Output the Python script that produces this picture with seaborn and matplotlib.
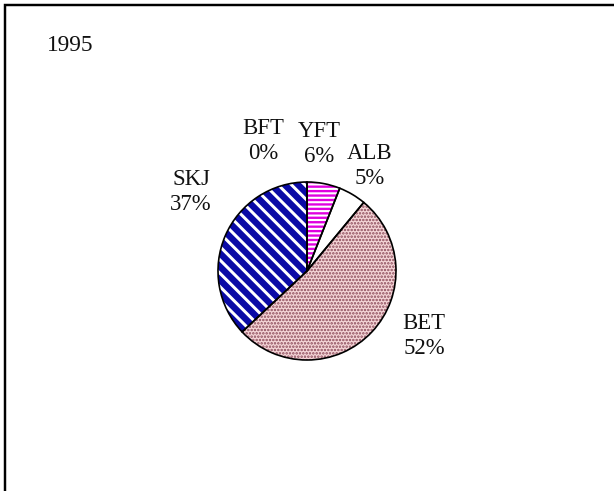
import matplotlib
matplotlib.use("Agg")
import matplotlib.pyplot as plt
import seaborn as sns
from matplotlib.lines import Line2D

# ---- data ----
year_title = "1995"
species = ["YFT", "ALB", "BET", "SKJ", "BFT"]
shares = [6, 5, 52, 37, 0]

# ---- styles ----
face_colors = ["#E000E0", "#FFFFFF", "#F5D6D8", "#0A0AA6", "#FFFFFF"]
hatch_colors = ["#FFFFFF", "#FFFFFF", "#8A4858", "#FFFFFF", "#FFFFFF"]
hatches = ["---", "", "....", "\\\\", ""]
hatch_widths = [1.9, 1.0, 1.5, 2.7, 1.0]

W, H, DPI = 614, 491, 80
sns.set_theme(style="white")
plt.rcParams["font.family"] = ["Liberation Serif", "DejaVu Serif"]

fig = plt.figure(figsize=(W / DPI, H / DPI), dpi=DPI)
fig.patch.set_facecolor("white")
ax = fig.add_axes([0, 0, 1, 1])


def py(y):
    return H - y


center = (307, py(271))
radius = 89

wedges, _ = ax.pie(shares, startangle=90, counterclock=False,
                   center=center, radius=radius,
                   wedgeprops=dict(linewidth=0))
for w, fc, hc, ht, hw in zip(wedges, face_colors, hatch_colors, hatches, hatch_widths):
    w.set_facecolor(fc)
    w.set_edgecolor(hc)
    w.set_linewidth(0)
    if ht:
        w.set_hatch(ht)
    if hasattr(w, "set_hatch_linewidth"):
        w.set_hatch_linewidth(hw)

# outlines
ax.pie(shares, startangle=90, counterclock=False, center=center, radius=radius,
       wedgeprops=dict(fill=False, edgecolor="black", linewidth=1.5))

# labels
label_pos = {"YFT": (319, 144), "ALB": (370, 166), "BET": (424, 336),
             "SKJ": (191, 192), "BFT": (263, 141)}
for name, val in zip(species, shares):
    x, y = label_pos[name]
    ax.text(x, py(y), f"{name}\n{val}%", ha="center", va="center",
            multialignment="center", fontsize=20.5, color="#111111",
            linespacing=1.2)

ax.text(47, py(45), year_title, ha="left", va="center", fontsize=21,
        color="#111111")

# frame (cropped box)
ax.add_line(Line2D([5, 5, W + 10], [py(H + 10), py(5), py(5)],
                   color="black", linewidth=2.2, clip_on=False,
                   solid_joinstyle="miter"))

ax.set_xlim(0, W)
ax.set_ylim(0, H)
ax.set_aspect("auto")
ax.axis("off")

fig.savefig("out.png", dpi=DPI, facecolor="white")
